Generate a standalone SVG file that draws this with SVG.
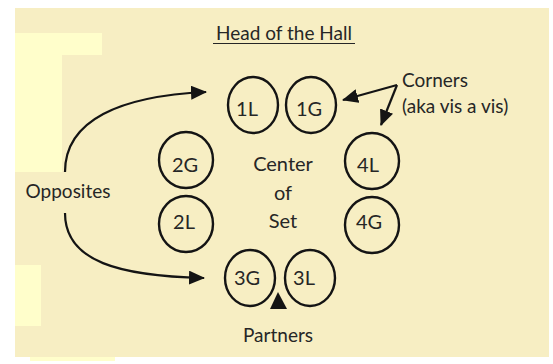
<svg xmlns="http://www.w3.org/2000/svg" width="553" height="364" viewBox="0 0 553 364">
  <style>
    .paper { fill: #F7EEC3; }
    .light { fill: #FFFECB; }
    .seat { fill: none; stroke: #141414; stroke-width: 2.4; }
    .lbl { font-family: Lato, "Open Sans", sans-serif; fill: #262626; text-anchor: middle; }
    .seat-lbl { font-size: 20px; }
    .note { font-size: 19px; }
    .title { font-size: 19px; }
    .link { fill: none; stroke: #141414; stroke-width: 2.2; }
  </style>
  <defs>
    <marker id="head" viewBox="0 0 16 14" refX="15" refY="7" markerWidth="16" markerHeight="14" markerUnits="userSpaceOnUse" orient="auto">
      <path d="M0,0 L16,7 L0,14 Z" fill="#141414"/>
    </marker>
  </defs>

  <!-- paper sheet with its lighter worn patches -->
  <rect x="0" y="0" width="553" height="364" fill="#FFFFFF"/>
  <rect class="paper" x="15" y="8" width="534" height="349"/>
  <path class="light" d="M15,33 H102 V55 H62 V172 H15 Z"/>
  <rect class="light" x="15" y="265" width="26" height="61"/>
  <rect class="light" x="30" y="357" width="85" height="4"/>

  <!-- title -->
  <g id="title">
    <text class="lbl title" x="284" y="40">Head of the Hall</text>
    <line x1="213" y1="43.5" x2="355" y2="43.5" stroke="#262626" stroke-width="1.2"/>
  </g>

  <!-- dancers -->
  <g id="seat-1L">
    <ellipse class="seat" cx="253" cy="105" rx="25" ry="28"/>
    <text class="lbl seat-lbl" x="247" y="116">1L</text>
  </g>
  <g id="seat-1G">
    <ellipse class="seat" cx="311" cy="105" rx="25" ry="28"/>
    <text class="lbl seat-lbl" x="309" y="116">1G</text>
  </g>
  <g id="seat-2G">
    <ellipse class="seat" cx="186" cy="160" rx="27" ry="28"/>
    <text class="lbl seat-lbl" x="185" y="172">2G</text>
  </g>
  <g id="seat-2L">
    <ellipse class="seat" cx="186" cy="224" rx="27" ry="28"/>
    <text class="lbl seat-lbl" x="184" y="229">2L</text>
  </g>
  <g id="seat-4L">
    <ellipse class="seat" cx="372" cy="161" rx="27" ry="28"/>
    <text class="lbl seat-lbl" x="368" y="172">4L</text>
  </g>
  <g id="seat-4G">
    <ellipse class="seat" cx="372" cy="225" rx="27" ry="28"/>
    <text class="lbl seat-lbl" x="369" y="229">4G</text>
  </g>
  <g id="seat-3G">
    <ellipse class="seat" cx="250" cy="278" rx="25" ry="28"/>
    <text class="lbl seat-lbl" x="247" y="285">3G</text>
  </g>
  <g id="seat-3L">
    <ellipse class="seat" cx="310" cy="278" rx="25" ry="28"/>
    <text class="lbl seat-lbl" x="304" y="285">3L</text>
  </g>

  <g id="center">
    <text class="lbl seat-lbl" x="283" y="171">Center</text>
    <text class="lbl seat-lbl" x="283" y="200">of</text>
    <text class="lbl seat-lbl" x="283" y="228">Set</text>
  </g>

  <!-- relationship labels -->
  <g id="opposites">
    <text class="lbl note" x="68" y="198">Opposites</text>
  </g>
  <g id="corners">
    <text class="lbl note" x="402" y="87" style="text-anchor:start">Corners</text>
    <text class="lbl note" x="402" y="113" style="text-anchor:start">(aka vis a vis)</text>
  </g>
  <g id="partners">
    <text class="lbl note" x="278" y="342">Partners</text>
  </g>

  <!-- connectors -->
  <g id="connectors">
    <path class="link" d="M65,172 C65,120 120,96 206,92" marker-end="url(#head)"/>
    <path class="link" d="M65,213 C65,262 120,276 204,278" marker-end="url(#head)"/>
    <path class="link" d="M397,85 L343,100" marker-end="url(#head)"/>
    <path class="link" d="M397,85 L381,125" marker-end="url(#head)"/>
    <path d="M278,292 L270,309 L287,309 Z" fill="#141414"/>
  </g>
</svg>
